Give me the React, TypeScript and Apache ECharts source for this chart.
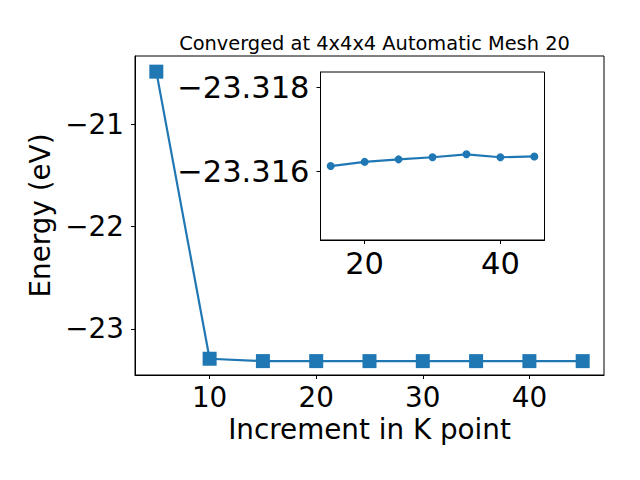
import React, { useEffect, useRef } from "react";
import * as echarts from "echarts";

const kPoints = [5, 10, 15, 20, 25, 30, 35, 40, 45];
const energies = [-20.487, -23.293, -23.31612, -23.31622, -23.31628, -23.31633, -23.3164, -23.31633, -23.31635];
const mainXTicks = [10, 20, 30, 40];
const mainYTicks = [-23, -22, -21];
const insetXTicks = [20, 40];
const insetYTicks = [-23.318, -23.316];
const titleText = "Converged at 4x4x4 Automatic Mesh 20";

const COLOR = "#1f77b4";
const FONT = "DejaVu Sans";

function fmt(v: number, d: number) {
  const s = Math.abs(v).toFixed(d);
  return (v < 0 ? "\u2212" : "") + s;
}

export default function App() {
  const ref = useRef<HTMLDivElement>(null);
  useEffect(() => {
    if (!ref.current) return;
    const chart = echarts.init(ref.current, null, { renderer: "svg" });
    const mainData = kPoints.map((k, i) => [k, energies[i]]);
    const insetData = kPoints.slice(2).map((k, i) => [k, energies[i + 2]]);
    const axisCommon = {
      axisLine: { show: true, onZero: false, lineStyle: { color: "#000", width: 1 } },
      splitLine: { show: false },
    };
    chart.setOption({
      animation: false,
      backgroundColor: "#fff",
      title: {
        text: titleText,
        left: 369.5,
        textAlign: "center",
        top: 29,
        textStyle: { fontFamily: FONT, fontSize: 19.4, fontWeight: "normal", color: "#000" },
      },
      grid: [
        { left: 135, top: 56, right: 36, bottom: 105, show: true, borderColor: "#000", borderWidth: 1, backgroundColor: "#fff", containLabel: false },
        { left: 320.5, top: 72, width: 224, height: 168, show: true, borderColor: "#000", borderWidth: 1, backgroundColor: "#fff", containLabel: false, z: 10 },
      ],
      xAxis: [
        {
          ...axisCommon,
          type: "value",
          gridIndex: 0,
          min: 3,
          max: 47,
          name: "Increment in K point",
          nameLocation: "middle",
          nameGap: 30,
          nameTextStyle: { fontFamily: FONT, fontSize: 27.8, color: "#000" },
          axisTick: { show: true, length: 4, customValues: mainXTicks, lineStyle: { color: "#000" } },
          axisLabel: { customValues: mainXTicks, fontFamily: FONT, fontSize: 27.8, color: "#000", margin: 8, formatter: (v: number) => fmt(v, 0) },
        },
        {
          ...axisCommon,
          type: "value",
          gridIndex: 1,
          min: 13.5,
          max: 46.5,
          z: 10,
          axisTick: { show: true, length: 4, customValues: insetXTicks, lineStyle: { color: "#000" } },
          axisLabel: { customValues: insetXTicks, fontFamily: FONT, fontSize: 30.5, color: "#000", margin: 8, formatter: (v: number) => fmt(v, 0) },
        },
      ],
      yAxis: [
        {
          ...axisCommon,
          type: "value",
          gridIndex: 0,
          min: -23.452,
          max: -20.334,
          name: "Energy (eV)",
          nameLocation: "middle",
          nameGap: 71,
          nameTextStyle: { fontFamily: FONT, fontSize: 27.8, color: "#000" },
          axisTick: { show: true, length: 4, customValues: mainYTicks, lineStyle: { color: "#000" } },
          axisLabel: { customValues: mainYTicks, fontFamily: FONT, fontSize: 27.8, color: "#000", margin: 11, formatter: (v: number) => fmt(v, 0) },
        },
        {
          ...axisCommon,
          type: "value",
          gridIndex: 1,
          min: -23.31836,
          max: -23.31436,
          inverse: true,
          z: 10,
          axisTick: { show: true, length: 4, customValues: insetYTicks, lineStyle: { color: "#000" } },
          axisLabel: { customValues: insetYTicks, fontFamily: FONT, fontSize: 30.5, color: "#000", margin: 11, formatter: (v: number) => fmt(v, 3) },
        },
      ],
      series: [
        {
          type: "line",
          xAxisIndex: 0,
          yAxisIndex: 0,
          data: mainData,
          symbol: "rect",
          symbolSize: 14,
          lineStyle: { color: COLOR, width: 2.2 },
          itemStyle: { color: COLOR },
          z: 2,
        },
        {
          type: "line",
          xAxisIndex: 1,
          yAxisIndex: 1,
          data: insetData,
          symbol: "circle",
          symbolSize: 8,
          lineStyle: { color: COLOR, width: 2.2 },
          itemStyle: { color: COLOR },
          z: 12,
        },
      ],
    });
    return () => chart.dispose();
  }, []);
  return <div ref={ref} style={{ width: 640, height: 480, position: "absolute", left: 0, top: 0 }} />;
}
